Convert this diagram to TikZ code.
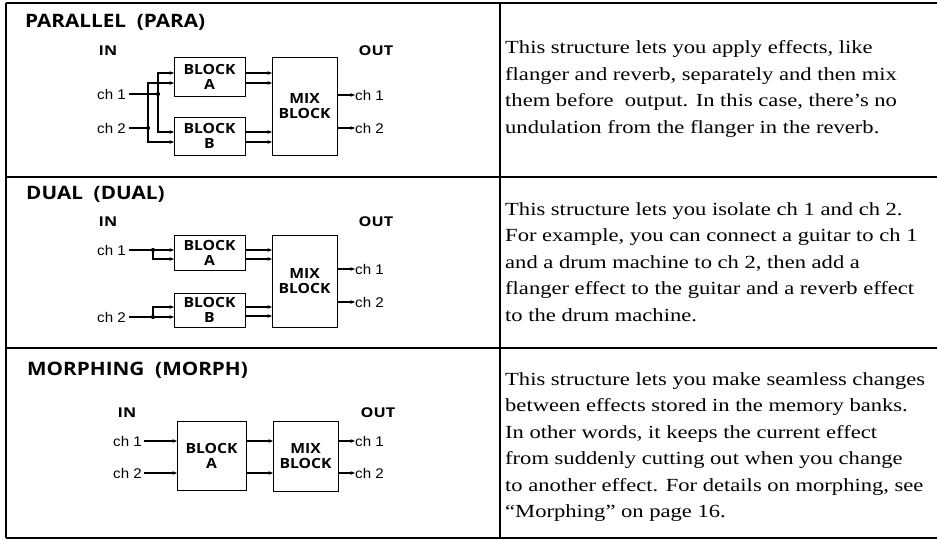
\documentclass[tikz,border=0pt]{standalone}
\usepackage{fontspec}
\setmainfont{Liberation Serif}
\newfontfamily\hdfont[FakeStretch=1.12]{Open Sans}
\newfontfamily\iofont[FakeStretch=1.2]{Open Sans}
\newfontfamily\lblfont[FakeStretch=1.08]{Liberation Sans}
\newfontfamily\bodyfont[FakeStretch=1.22]{Liberation Serif}
\usetikzlibrary{arrows.meta}
\tikzset{
  rulel/.style={line width=1.8pt},
  blockbox/.style={draw, line width=0.8pt, inner sep=0pt, align=center,
    font=\hdfont\bfseries\fontsize{14}{15}\selectfont},
  titletext/.style={anchor=base west, inner sep=0pt,
    font=\hdfont\bfseries\fontsize{18.5}{20}\selectfont},
  iotext/.style={inner sep=0pt, font=\iofont\bfseries\fontsize{13.5}{14}\selectfont},
  chin/.style={anchor=east, inner sep=0pt, font=\lblfont\fontsize{14}{15}\selectfont},
  chout/.style={anchor=west, inner sep=0pt, font=\lblfont\fontsize{14}{15}\selectfont},
  wire/.style={line width=1.1pt},
  sig/.style={line width=1.1pt, -{Stealth[length=4.5pt,width=3.6pt]}},
  jdot/.style={circle, fill, inner sep=0pt, minimum size=4.2pt},
  bodytext/.style={anchor=base west, inner sep=0pt, align=left,
    font=\bodyfont\fontsize{18.5}{26.5}\selectfont},
}
\begin{document}
\begin{tikzpicture}[x=1pt,y=-1pt]
\useasboundingbox (0,0) rectangle (937,540);
% table rules
\draw[rulel] (6,3) -- (937,3);
\draw[rulel] (6,177) -- (937,177);
\draw[rulel] (6,348) -- (937,348);
\draw[rulel] (6,538) -- (937,538);
\draw[rulel] (6,3) -- (6,538);
\draw[rulel] (500,3) -- (500,538);

% ---------------- PARALLEL ----------------
\node[titletext] (t1) at (25,28) {PARALLEL\ \ (PARA)};
\node[iotext] (in1) at (108,51) {IN};
\node[iotext] (out1) at (376,51) {OUT};
\node[blockbox, minimum width=71pt, minimum height=39pt] (bA1) at (209.5,76.5) {BLOCK\\A};
\node[blockbox, minimum width=71pt, minimum height=38pt] (bB1) at (209.5,136) {BLOCK\\B};
\node[blockbox, minimum width=65pt, minimum height=98pt] (mx1) at (304.5,106) {MIX\\BLOCK};
\node[chin] (c1i1) at (126,94) {ch 1};
\node[chin] (c2i1) at (126,128) {ch 2};
\node[chout] (c1o1) at (355,95) {ch 1};
\node[chout] (c2o1) at (355,128) {ch 2};
\node[jdot] (j11) at (158,94) {};
\node[jdot] (j21) at (148,128) {};
\coordinate (a1u) at (174,73); \coordinate (a1l) at (174,83);
\coordinate (b1u) at (174,132); \coordinate (b1l) at (174,142);
\coordinate (ma1u) at (272,73); \coordinate (ma1l) at (272,83);
\coordinate (mb1u) at (272,132); \coordinate (mb1l) at (272,142);
\coordinate (oa1) at (245,73); \coordinate (ob1) at (245,83);
\coordinate (oc1) at (245,132); \coordinate (od1) at (245,142);
\coordinate (mo11) at (337,95); \coordinate (mo21) at (337,128);
\draw[wire] ([xshift=3pt]c1i1.east) -- (j11.center);
\draw[wire] ([xshift=3pt]c2i1.east) -- (j21.center);
\draw[sig] (j11.center) |- (a1u);
\draw[sig] (j11.center) |- (b1u);
\draw[sig] (j21.center) |- (a1l);
\draw[sig] (j21.center) |- (b1l);
\draw[sig] (oa1) -- (ma1u);
\draw[sig] (ob1) -- (ma1l);
\draw[sig] (oc1) -- (mb1u);
\draw[sig] (od1) -- (mb1l);
\draw[sig] (mo11) -- (c1o1.west);
\draw[sig] (mo21) -- (c2o1.west);

% ---------------- DUAL ----------------
\node[titletext] (t2) at (26,200) {DUAL\ \ (DUAL)};
\node[iotext] (in2) at (108,222) {IN};
\node[iotext] (out2) at (376,222) {OUT};
\node[blockbox, minimum width=71pt, minimum height=35pt] (bA2) at (209.5,252.5) {BLOCK\\A};
\node[blockbox, minimum width=71pt, minimum height=34pt] (bB2) at (209.5,310) {BLOCK\\B};
\node[blockbox, minimum width=65pt, minimum height=92pt] (mx2) at (304.5,281) {MIX\\BLOCK};
\node[chin] (c1i2) at (126,250) {ch 1};
\node[chin] (c2i2) at (126,317) {ch 2};
\node[chout] (c1o2) at (355,269) {ch 1};
\node[chout] (c2o2) at (355,302) {ch 2};
\node[jdot] (j12) at (153,250) {};
\node[jdot] (j22) at (153,317) {};
\coordinate (a2u) at (174,250); \coordinate (a2l) at (174,259);
\coordinate (b2u) at (174,307); \coordinate (b2l) at (174,317);
\coordinate (ma2u) at (272,250); \coordinate (ma2l) at (272,259);
\coordinate (mb2u) at (272,307); \coordinate (mb2l) at (272,316);
\coordinate (oa2) at (245,250); \coordinate (ob2) at (245,259);
\coordinate (oc2) at (245,307); \coordinate (od2) at (245,316);
\coordinate (mo12) at (337,269); \coordinate (mo22) at (337,302);
\draw[wire] ([xshift=3pt]c1i2.east) -- (j12.center);
\draw[wire] ([xshift=3pt]c2i2.east) -- (j22.center);
\draw[sig] (j12.center) -- (a2u);
\draw[sig] (j12.center) |- (a2l);
\draw[sig] (j22.center) |- (b2u);
\draw[sig] (j22.center) -- (b2l);
\draw[sig] (oa2) -- (ma2u);
\draw[sig] (ob2) -- (ma2l);
\draw[sig] (oc2) -- (mb2u);
\draw[sig] (od2) -- (mb2l);
\draw[sig] (mo12) -- (c1o2.west);
\draw[sig] (mo22) -- (c2o2.west);

% ---------------- MORPHING ----------------
\node[titletext] (t3) at (27,375) {MORPHING\ \ (MORPH)};
\node[iotext] (in3) at (127,413) {IN};
\node[iotext] (out3) at (378,413) {OUT};
\node[blockbox, minimum width=69pt, minimum height=69pt] (bA3) at (211.5,455.5) {BLOCK\\A};
\node[blockbox, minimum width=65pt, minimum height=70pt] (mx3) at (305.5,456) {MIX\\BLOCK};
\node[chin] (c1i3) at (142,441) {ch 1};
\node[chin] (c2i3) at (142,473) {ch 2};
\node[chout] (c1o3) at (355,441) {ch 1};
\node[chout] (c2o3) at (355,473) {ch 2};
\coordinate (a3u) at (177,441); \coordinate (a3l) at (177,473);
\coordinate (oa3) at (246,441); \coordinate (ob3) at (246,473);
\coordinate (ma3u) at (273,441); \coordinate (ma3l) at (273,473);
\coordinate (mo13) at (338,441); \coordinate (mo23) at (338,473);
\draw[sig] ([xshift=2pt]c1i3.east) -- (a3u);
\draw[sig] ([xshift=2pt]c2i3.east) -- (a3l);
\draw[sig] (oa3) -- (ma3u);
\draw[sig] (ob3) -- (ma3l);
\draw[sig] (mo13) -- (c1o3.west);
\draw[sig] (mo23) -- (c2o3.west);

% ---------------- descriptions (anchored at last baseline) ----------------
\node[bodytext] (d1) at (505,133.5) {This structure lets you apply effects, like\\
flanger and reverb, separately and then mix\\
them before\ \ output. In this case, there’s no\\
undulation from the flanger in the reverb.};
\node[bodytext] (d2) at (505,321) {This structure lets you isolate ch 1 and ch 2.\\
For example, you can connect a guitar to ch 1\\
and a drum machine to ch 2, then add a\\
flanger effect to the guitar and a reverb effect\\
to the drum machine.};
\node[bodytext] (d3) at (505,517.5) {This structure lets you make seamless changes\\
between effects stored in the memory banks.\\
In other words, it keeps the current effect\\
from suddenly cutting out when you change\\
to another effect. For details on morphing, see\\
“Morphing” on page 16.};
\end{tikzpicture}
\end{document}
